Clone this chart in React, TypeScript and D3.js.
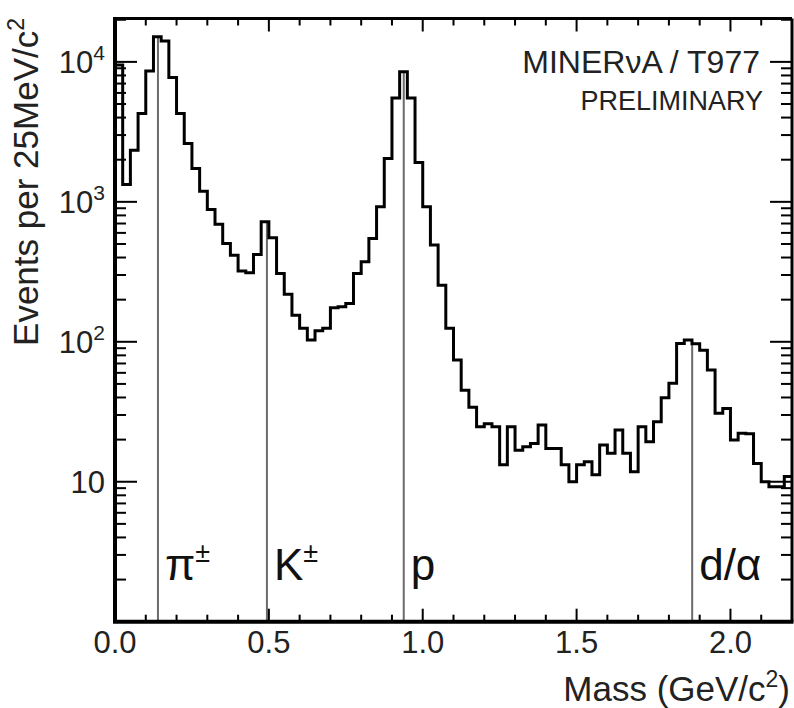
import React, { useEffect, useRef } from "react";
import * as d3 from "d3";

// events per 25 MeV/c^2 bin, from 0.0 to 2.2 GeV/c^2
const binWidth = 0.025;
const counts = [
  9500, 1330, 2340, 4280, 8590, 15100, 14100, 7740, 4280, 2610,
  1730, 1190, 883, 693, 504, 416, 321, 311, 421, 720,
  553, 308, 219, 155, 125, 103, 120, 125, 175, 178,
  188, 308, 373, 548, 921, 2040, 5530, 8490, 5530, 1910,
  921, 491, 254, 125, 74, 45, 34, 24.7, 26, 24.7,
  13.2, 24.7, 16.8, 17.8, 18.8, 25.4, 17.3, 17.3, 13.2, 10,
  13.2, 13.9, 11.2, 18.3, 16, 23.4, 16, 11.8, 24.7, 19.3,
  26.8, 39.8, 50.5, 97.4, 103, 97, 87, 62.8, 30.8, 33.4,
  19.9, 22.2, 22, 13.5, 10, 9.2, 9.2, 10.9,
];

// particle mass lines
const particleNames = ["π", "K", "p", "d/α"];
const particleSups = ["±", "±", "", ""];
const particleMasses = [0.1396, 0.4937, 0.9383, 1.8756];

// axes
const xTickLabels = ["0.0", "0.5", "1.0", "1.5", "2.0"];
const xMajorTicks = [0, 0.5, 1.0, 1.5, 2.0];
const yDecades = [1, 2, 3, 4];

export default function App() {
  const svgRef = useRef<SVGSVGElement>(null);

  useEffect(() => {
    const svg = d3.select(svgRef.current);
    svg.selectAll("*").remove();

    const width = 794;
    const height = 708;
    const left = 115, right = 792, top = 18.5, bottom = 621.7;
    const font = "'Liberation Sans', Arial, Helvetica, sans-serif";

    svg.attr("width", width).attr("height", height);

    const x = d3.scaleLinear().domain([0, 2.2]).range([left, right]);
    const y = d3.scaleLog().domain([1, Math.pow(10, 4.31)]).range([bottom, top]);

    svg.append("rect").attr("width", width).attr("height", height).attr("fill", "#fff");

    // clip for the histogram
    svg.append("clipPath").attr("id", "frame")
      .append("rect")
      .attr("x", left).attr("y", top)
      .attr("width", right - left).attr("height", bottom - top);

    // particle lines (behind histogram)
    const lines = svg.append("g").attr("clip-path", "url(#frame)");
    particleMasses.forEach((m) => {
      const v = counts[Math.floor(m / binWidth)];
      lines.append("line")
        .attr("x1", x(m)).attr("x2", x(m))
        .attr("y1", y(1)).attr("y2", y(v))
        .attr("stroke", "#6b6b6b")
        .attr("stroke-width", 2);
    });

    // histogram
    const pts: [number, number][] = counts.map((c, i) => [i * binWidth, c]);
    pts.push([counts.length * binWidth, counts[counts.length - 1]]);
    const line = d3.line<[number, number]>()
      .x(d => x(d[0]))
      .y(d => y(d[1]))
      .curve(d3.curveStepAfter);

    svg.append("path")
      .attr("clip-path", "url(#frame)")
      .attr("d", line(pts))
      .attr("fill", "none")
      .attr("stroke", "#000")
      .attr("stroke-width", 3)
      .attr("stroke-linejoin", "miter");

    // frame
    const axes = svg.append("g").attr("stroke", "#000");
    axes.append("line").attr("x1", left).attr("x2", right).attr("y1", top).attr("y2", top).attr("stroke-width", 3);
    axes.append("line").attr("x1", right).attr("x2", right).attr("y1", top).attr("y2", bottom).attr("stroke-width", 3);
    axes.append("line").attr("x1", left - 2).attr("x2", right + 1.5).attr("y1", bottom).attr("y2", bottom).attr("stroke-width", 4);
    axes.append("line").attr("x1", left).attr("x2", left).attr("y1", top - 1.5).attr("y2", bottom).attr("stroke-width", 4);

    // x ticks, bottom and top
    const xMinor = d3.range(0, 22).map(i => i / 10).filter(v => !xMajorTicks.includes(v));
    const xt = svg.append("g").attr("stroke", "#000").attr("stroke-width", 2);
    xMajorTicks.forEach(v => {
      xt.append("line").attr("x1", x(v)).attr("x2", x(v)).attr("y1", bottom).attr("y2", bottom - 13);
      xt.append("line").attr("x1", x(v)).attr("x2", x(v)).attr("y1", top).attr("y2", top + 13);
    });
    xMinor.forEach(v => {
      xt.append("line").attr("x1", x(v)).attr("x2", x(v)).attr("y1", bottom).attr("y2", bottom - 7);
      xt.append("line").attr("x1", x(v)).attr("x2", x(v)).attr("y1", top).attr("y2", top + 7);
    });

    svg.append("g").selectAll("text")
      .data(xTickLabels)
      .enter()
      .append("text")
      .attr("x", (d, i) => x(xMajorTicks[i]))
      .attr("y", 653)
      .attr("text-anchor", "middle")
      .style("font-family", font)
      .style("font-size", "31px")
      .attr("fill", "#222")
      .text(d => d);

    // y ticks, left and right
    const yt = svg.append("g").attr("stroke", "#000").attr("stroke-width", 2);
    const yMax = y.domain()[1];
    [0, ...yDecades].forEach(e => {
      const base = Math.pow(10, e);
      if (e > 0) {
        yt.append("line").attr("x1", left).attr("x2", left + 22).attr("y1", y(base)).attr("y2", y(base));
        yt.append("line").attr("x1", right).attr("x2", right - 22).attr("y1", y(base)).attr("y2", y(base));
      }
      d3.range(2, 10).forEach(k => {
        const v = k * base;
        if (v >= yMax) return;
        yt.append("line").attr("x1", left).attr("x2", left + 11).attr("y1", y(v)).attr("y2", y(v));
        yt.append("line").attr("x1", right).attr("x2", right - 11).attr("y1", y(v)).attr("y2", y(v));
      });
    });

    yDecades.forEach(e => {
      const t = svg.append("text")
        .attr("x", 105)
        .attr("y", y(Math.pow(10, e)) + 11)
        .attr("text-anchor", "end")
        .style("font-family", font)
        .style("font-size", "31px")
        .attr("fill", "#222");
      t.append("tspan").text("10");
      if (e > 1) {
        t.append("tspan").attr("dy", -13).style("font-size", "21px").text(String(e));
      }
    });

    // axis titles
    const xTitle = svg.append("text")
      .attr("x", 790)
      .attr("y", 701)
      .attr("text-anchor", "end")
      .style("font-family", font)
      .style("font-size", "35px")
      .attr("fill", "#222");
    xTitle.append("tspan").text("Mass (GeV/c");
    xTitle.append("tspan").attr("dy", -14).style("font-size", "23px").text("2");
    xTitle.append("tspan").attr("dy", 14).text(")");

    const yTitle = svg.append("text")
      .attr("transform", "translate(38,18) rotate(-90)")
      .attr("text-anchor", "end")
      .style("font-family", font)
      .style("font-size", "35px")
      .attr("fill", "#222");
    yTitle.append("tspan").text("Events per 25MeV/c");
    yTitle.append("tspan").attr("dy", -14).style("font-size", "23px").text("2");

    // particle labels
    particleNames.forEach((name, i) => {
      const t = svg.append("text")
        .attr("x", x(particleMasses[i]) + 7)
        .attr("y", 580)
        .style("font-family", font)
        .style("font-size", "44px")
        .attr("fill", "#111");
      t.append("tspan").text(name);
      if (particleSups[i]) {
        t.append("tspan").attr("dy", -18).style("font-size", "27px").text(particleSups[i]);
      }
    });

    // experiment label
    svg.append("text")
      .attr("x", 760).attr("y", 73)
      .attr("text-anchor", "end")
      .style("font-family", font)
      .style("font-size", "32px")
      .attr("fill", "#222")
      .text("MINERνA / T977");
    svg.append("text")
      .attr("x", 763).attr("y", 110)
      .attr("text-anchor", "end")
      .style("font-family", font)
      .style("font-size", "27px")
      .attr("fill", "#222")
      .text("PRELIMINARY");
  }, []);

  return (
    <div style={{ position: "absolute", left: 0, top: 0 }}>
      <svg ref={svgRef}></svg>
    </div>
  );
}
